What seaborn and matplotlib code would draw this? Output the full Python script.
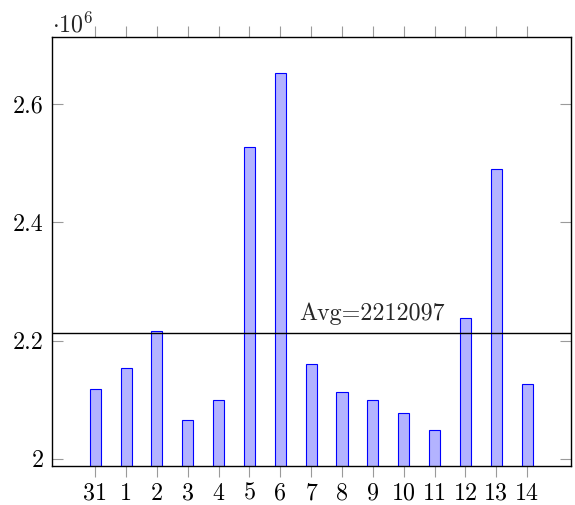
import matplotlib
matplotlib.use("Agg")
import matplotlib.pyplot as plt
import seaborn as sns
import pandas as pd
from matplotlib.ticker import FuncFormatter

days = ["31", "1", "2", "3", "4", "5", "6", "7", "8", "9", "10", "11", "12", "13", "14"]
values = [2118400, 2152800, 2215700, 2066200, 2099400, 2527400, 2653200, 2159600,
          2113400, 2099400, 2078000, 2048300, 2238800, 2489800, 2126400]
avg_value = 2212097
avg_label = "Avg=2212097"
y_ticks = [2.0e6, 2.2e6, 2.4e6, 2.6e6]

sns.set_theme(style="white")
plt.rcParams["font.family"] = ["cmr10", "DejaVu Serif"]
plt.rcParams["mathtext.fontset"] = "cm"
plt.rcParams["axes.formatter.use_mathtext"] = True

FS = 17.3

df = pd.DataFrame({"day": days, "value": values})

fig = plt.figure(figsize=(5.75, 5.05), dpi=100)
ax = fig.add_axes([52 / 575, (505 - 466) / 505, (571 - 52) / 575, (466 - 37) / 505])

sns.barplot(data=df, x="day", y="value", order=days, ax=ax, width=0.36,
            color="#B3B3FF", saturation=1, edgecolor="#0000FF", linewidth=0.8)

ax.axhline(avg_value, color="black", linewidth=1.0)
ax.text(6.60, 2234500, avg_label, ha="left", va="baseline", fontsize=FS)

ax.set_xlim(-1.40, 15.42)
ax.set_ylim(1.9877e6, 2.7138e6)
ax.set_yticks(y_ticks)
ax.yaxis.set_major_formatter(FuncFormatter(lambda v, p: f"{v / 1e6:g}"))
ax.set_xlabel("")
ax.set_ylabel("")

for s in ax.spines.values():
    s.set_color("black")
    s.set_linewidth(1.0)
    s.set_visible(True)

ax.tick_params(axis="x", direction="out", top=True, bottom=True, length=8,
               width=0.8, color="#9a9a9a", labelsize=FS, pad=4)
ax.tick_params(axis="y", direction="in", left=True, right=True, length=8,
               width=0.8, color="#9a9a9a", labelsize=FS, pad=6)
for lab in ax.get_xticklabels() + ax.get_yticklabels():
    lab.set_color("black")

ax.text(0.0, 1.0, r"$\cdot 10^{6}$", transform=ax.transAxes, ha="left", va="bottom",
        fontsize=FS)

fig.savefig("out.png", dpi=100)
